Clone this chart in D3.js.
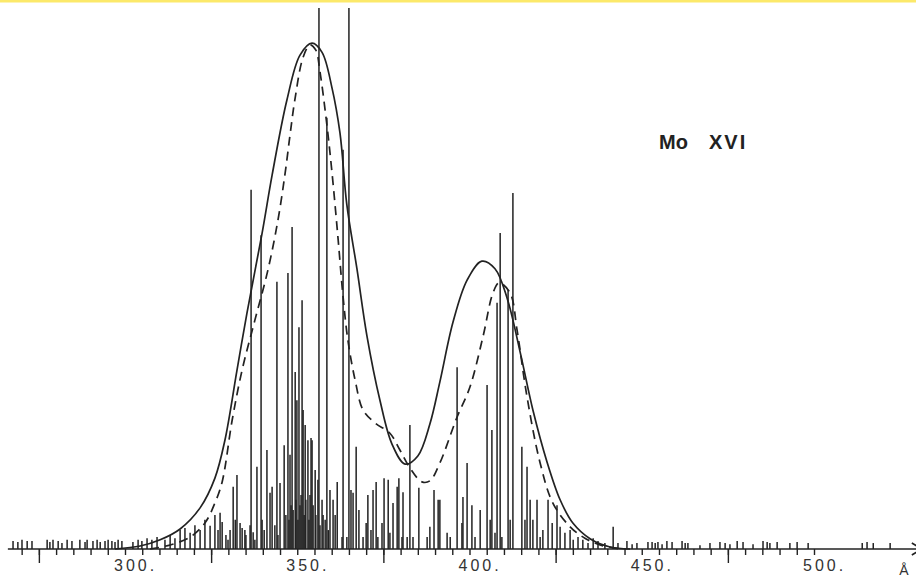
<!DOCTYPE html>
<html>
<head>
<meta charset="utf-8">
<script src="https://cdn.jsdelivr.net/npm/d3@7"></script>
<style>
  html, body { margin: 0; padding: 0; background: #fff; }
  svg { display: block; }
</style>
</head>
<body>
<svg id="chart" width="916" height="577"></svg>
<script>
// Mo XVI computed line spectrum: [wavelength (Å), relative intensity]
const linesShortWave = [
  [267.5,1.5],[268.9,1.3],[270.1,1.7],[271.6,1.5],[273.0,1.5],[277.4,1.7],[278.2,1.3],[279.1,1.7],
  [280.6,1.5],[281.7,1.1],[283.2,1.7],[284.6,1.5],[286.9,1.7],[288.4,1.3],[289.0,1.7],[290.7,1.5],
  [291.9,1.7],[292.8,1.3],[294.2,1.5],[295.1,1.7],[296.2,1.5],[297.1,1.3],[298.0,1.7],[299.1,1.5],
  [302.3,1.3],[303.8,1.7],[304.9,1.5],[306.4,2.0],[307.8,1.7],[309.3,2.2],[311.6,1.7],[313.1,2.6],
  [314.5,2.0],[316.0,3.5],[317.4,3.9],[318.9,3.0],[320.3,4.4],[321.8,3.5],[323.2,5.4],[324.7,4.3],
  [326.1,6.3],[327.0,3.5]
];
const linesFirstPeak = [
  [327.6,6.7],[328.2,5.0],[329.3,2.6],[329.9,1.7],[330.5,3.5],[331.4,11.5],[332.0,5.4],[332.5,13.7],
  [333.4,4.8],[334.0,3.9],[334.8,3.5],[335.1,2.6],[336.3,4.4],[336.6,66.4],[337.2,3.1],[337.7,1.7],
  [338.3,15.2],[339.5,58.0],[339.8,5.4],[340.4,3.5],[341.2,18.3],[342.1,10.4],[342.7,11.5],[343.5,4.4],
  [344.1,49.4],[344.4,2.6],[345.0,12.2],[346.2,19.2],[346.7,6.3],[347.3,51.0],[347.6,5.4],[347.9,17.4],
  [348.2,8.1],[348.5,59.5],[348.8,7.2],[349.4,32.7],[349.6,9.1],[349.9,27.5],[350.2,5.4],[350.5,41.0],
  [350.8,8.1],[351.1,10.0],[351.4,46.0],[351.7,25.7],[352.0,6.3],[352.3,22.9],[352.5,9.1],[353.1,20.1],
  [353.4,5.4],[353.7,10.0],[354.0,20.5],[354.3,20.1],[354.6,8.1],[355.2,14.6],[355.4,6.3],[356.0,12.8],
  [356.3,100],[356.6,4.4],[357.2,9.1],[357.5,6.3],[358.1,5.4],[358.6,79.7],[359.0,3.5],[359.5,10.9],
  [360.4,9.1],[361.0,6.3],[361.6,12.4],[363.0,2.2],[363.3,73.8],[364.4,2.2],[365.0,100],[365.6,10.9],
  [366.2,10.4],[367.1,18.9],[367.9,7.2]
];
const linesSecondPeak = [
  [369.1,2.2],[370.0,4.8],[370.5,10.0],[371.4,3.5],[372.0,10.9],[372.9,12.4],[373.4,2.2],[374.6,4.8],
  [375.2,13.1],[376.4,12.8],[376.9,3.0],[377.8,8.5],[379.0,11.5],[379.5,13.1],[380.4,2.2],[380.7,10.5],
  [381.9,2.2],[382.7,22.9],[383.6,2.2],[385.3,11.3],[387.7,2.2],[388.5,4.1],[389.7,10.9],[390.9,9.1],
  [391.4,9.1],[393.5,3.0],[394.4,2.2],[396.4,33.6],[397.8,4.8],[398.1,9.6],[399.3,15.9],[400.7,8.1],
  [401.6,2.2],[403.1,7.2],[405.1,30.3],[406.0,5.4],[406.5,22.0],[407.4,3.0],[408.0,45.5],[408.9,58.4],
  [409.4,2.2],[411.2,47.9],[411.8,5.4],[412.6,65.8],[415.2,18.9],[416.1,5.4],[416.7,15.2],[417.6,9.1],
  [418.4,5.4],[419.6,9.1],[420.5,2.2],[421.3,3.5],[422.8,9.1],[424.0,4.8],[425.4,8.1],[426.3,4.1],
  [427.7,3.0],[429.2,3.5],[430.1,1.7],[431.5,2.2]
];
const linesLongWave = [
  [432.9,1.7],[434.4,1.1],[435.9,2.0],[437.3,1.5],[439.3,1.1],[441.7,4.1],[443.1,1.1],[445.7,1.5],
  [447.2,0.9],[448.6,1.1],[451.8,1.3],[453.0,1.3],[453.9,1.1],[454.7,1.3],[455.9,0.9],[457.3,1.5],
  [458.8,1.3],[461.7,1.5],[462.6,1.1],[463.4,1.1],[466.9,0.7],[469.8,1.1],[472.7,1.3],[474.2,1.1],
  [475.6,0.9],[477.7,1.5],[479.4,1.3],[482.3,0.9],[485.2,1.5],[486.4,1.3],[487.2,1.1],[489.3,1.3],
  [493.0,1.1],[495.1,1.3],[498.3,1.1],[514.0,1.1],[515.4,1.3],[517.2,1.1],[522.1,1.1]
];

// Envelope (solid) and second envelope (dashed): [wavelength, intensity]
const envelopeSolid = [
  [297.1,0],[304.4,0.55],[310.2,1.7],[316.0,3.7],[321.8,7.6],[326.1,13.1],[329.0,20.1],[332.5,33.0],
  [335.4,43.6],[339.8,58.4],[342.7,69.1],[347.0,83.0],[350.8,91.3],[354.3,93.5],[357.2,91.8],[360.1,85.2],
  [362.4,76.9],[364.4,63.6],[367.3,51.9],[370.2,39.5],[374.0,27.5],[377.5,19.4],[381.3,15.7],[385.0,17.2],
  [388.5,23.1],[391.4,30.9],[395.2,41.9],[399.3,49.7],[403.6,53.2],[407.4,51.8],[410.9,46.4],[414.7,36.4],
  [418.4,25.7],[422.5,16.1],[426.3,9.1],[430.0,4.8],[435.1,1.85],[440.8,0.37],[446.6,0]
];
const envelopeDashed = [
  [307.3,0],[313.1,0.74],[318.9,2.2],[323.2,4.8],[326.1,8.5],[328.2,12.4],[331.1,23.8],[334.0,33.1],
  [337.7,42.3],[341.5,51.6],[344.4,60.8],[346.4,69.1],[347.9,76.5],[349.3,83.0],[351.7,90.9],[353.7,93.2],
  [355.4,92.2],[356.6,88.2],[358.6,78.4],[360.1,69.5],[361.8,57.7],[363.3,46.6],[364.7,38.6],[366.8,31.2],
  [369.1,25.7],[372.6,23.3],[376.9,21.4],[379.8,18.3],[382.7,15.0],[386.2,12.4],[388.5,12.6],[391.4,15.9],
  [396.4,24.4],[400.1,29.9],[403.9,39.2],[406.8,47.3],[408.6,49.2],[411.8,47.3],[413.8,40.5],[416.7,28.1],
  [420.5,15.9],[424.2,8.5],[429.2,4.1],[433.5,2.0],[437.9,0.74],[443.7,0]
];

const minorTicks = d3.range(270, 501, 5);
const majorTicks = [275, 325, 375, 425, 475];
const labelValues = [300, 350, 400, 450, 500];
const tickLabels = ["300.", "350.", "400.", "450.", "500."];
const axisRange = [266, 531.3];
const title = ["Mo", "XVI"];

const ink = "#222";
const svg = d3.select("#chart");

// top edge band
svg.append("rect").attr("x", 0).attr("y", 0).attr("width", 916).attr("height", 2.5)
  .attr("fill", "#fce96a");

const x = d3.scaleLinear().domain([300, 500]).range([125, 814]);
const y = d3.scaleLinear().domain([0, 100]).range([549, 8]);

// spectral lines
const allLines = [...linesShortWave, ...linesFirstPeak, ...linesSecondPeak, ...linesLongWave];
svg.append("g").selectAll("line").data(allLines).join("line")
  .attr("x1", d => x(d[0])).attr("x2", d => x(d[0]))
  .attr("y1", y(0)).attr("y2", d => y(d[1]))
  .attr("stroke", ink).attr("stroke-width", 1.5);

// envelopes
const lineGen = d3.line().x(d => x(d[0])).y(d => y(d[1])).curve(d3.curveCatmullRom.alpha(0.5));
svg.append("path").datum(envelopeSolid).attr("d", lineGen)
  .attr("fill", "none").attr("stroke", ink).attr("stroke-width", 1.7);
svg.append("path").datum(envelopeDashed).attr("d", lineGen)
  .attr("fill", "none").attr("stroke", ink).attr("stroke-width", 1.7)
  .attr("stroke-dasharray", "9,6");

// wavelength axis
const axisG = svg.append("g");
axisG.append("line")
  .attr("x1", x(axisRange[0])).attr("x2", x(axisRange[1]))
  .attr("y1", y(0)).attr("y2", y(0))
  .attr("stroke", ink).attr("stroke-width", 1.6);

const minorAxis = d3.axisBottom(x).tickValues(minorTicks).tickSize(6).tickFormat("");
const majorAxis = d3.axisBottom(x).tickValues(majorTicks).tickSize(14).tickFormat("");
[minorAxis, majorAxis].forEach(a => {
  const g = axisG.append("g").attr("transform", `translate(0,${y(0)})`).call(a);
  g.select(".domain").remove();
  g.selectAll(".tick line").attr("stroke", ink).attr("stroke-width", 1.4);
});

// arrow head at the end of the axis
const ax = x(axisRange[1]), ay = y(0);
axisG.append("path")
  .attr("d", `M${ax - 10},${ay - 6} L${ax},${ay} L${ax - 10},${ay + 6}`)
  .attr("fill", "none").attr("stroke", ink).attr("stroke-width", 1.6);

// tick labels
svg.append("g").selectAll("text").data(labelValues).join("text")
  .attr("x", d => x(d) - 11).attr("y", 571)
  .attr("font-family", "Liberation Sans, Arial, sans-serif")
  .attr("font-size", 16).attr("letter-spacing", "3px")
  .attr("fill", "#333")
  .text((d, i) => tickLabels[i]);

svg.append("text").attr("x", 904).attr("y", 575).attr("text-anchor", "middle")
  .attr("font-family", "Liberation Sans, Arial, sans-serif").attr("font-size", 14)
  .attr("fill", "#333").text("Å");

// ion label
const t = svg.append("text").attr("y", 149)
  .attr("font-family", "Liberation Sans, Arial, sans-serif")
  .attr("font-size", 20).attr("font-weight", "bold").attr("fill", "#222");
t.append("tspan").attr("x", 659).text(title[0]);
t.append("tspan").attr("x", 709).attr("letter-spacing", "2px").text(title[1]);
</script>
</body>
</html>
